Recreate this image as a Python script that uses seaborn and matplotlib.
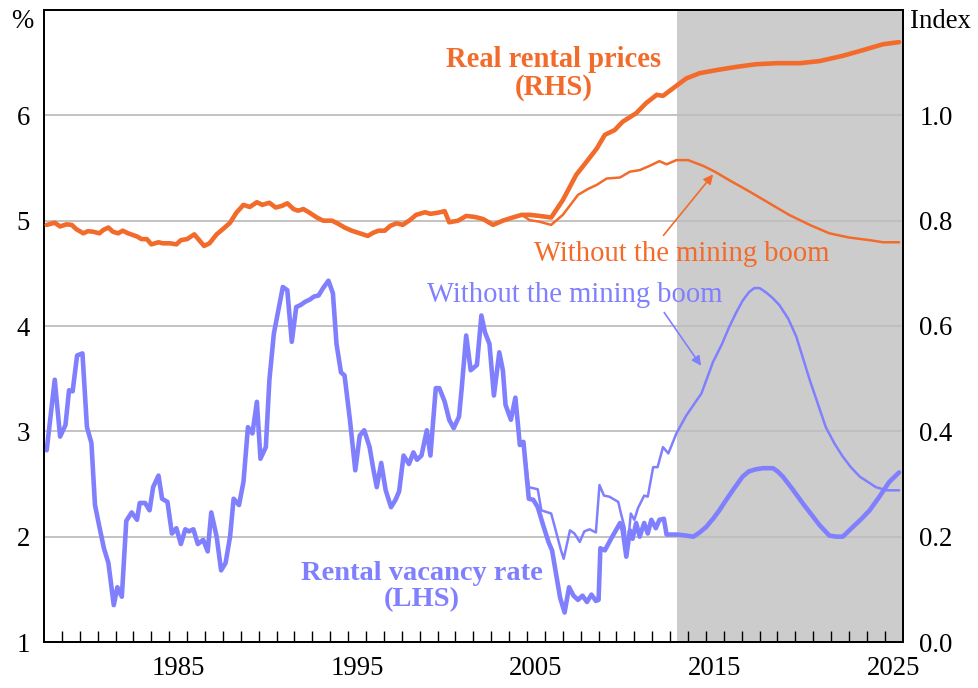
import numpy as np
import pandas as pd
import matplotlib
matplotlib.use("Agg")
import matplotlib.pyplot as plt
import seaborn as sns
from matplotlib.ticker import FixedLocator, FormatStrFormatter

# ---------------- data ----------------
vac_year = [1978.15, 1978.6, 1978.9, 1979.2, 1979.4, 1979.6, 1979.85, 1980.15, 1980.4, 1980.65,
            1980.85, 1981.1, 1981.35, 1981.6, 1981.9, 1982.1, 1982.35, 1982.6, 1982.9, 1983.2,
            1983.35, 1983.65, 1983.9, 1984.1, 1984.4, 1984.6, 1984.9, 1985.15, 1985.4, 1985.65,
            1985.9, 1986.1, 1986.35, 1986.6, 1986.9, 1987.15, 1987.35, 1987.65, 1987.9, 1988.15,
            1988.4, 1988.6, 1988.9, 1989.15, 1989.4, 1989.65, 1989.9, 1990.1, 1990.4, 1990.6,
            1990.85, 1991.1, 1991.35, 1991.6, 1991.85, 1992.1, 1992.35, 1992.6, 1992.85, 1993.1,
            1993.35, 1993.6, 1993.9, 1994.15, 1994.35, 1994.6, 1994.8, 1995.1, 1995.4, 1995.65,
            1995.9, 1996.2, 1996.4, 1996.6, 1996.85, 1997.1, 1997.4, 1997.65, 1997.85, 1998.1,
            1998.4, 1998.65, 1998.85, 1999.1, 1999.4, 1999.6, 1999.9, 2000.1, 2000.4, 2000.65,
            2000.9, 2001.2, 2001.35, 2001.6, 2001.85, 2002.2, 2002.45, 2002.65, 2002.9, 2003.15,
            2003.45, 2003.65, 2003.8, 2004.1, 2004.35, 2004.6, 2004.8, 2005.1, 2005.35, 2005.6,
            2005.9, 2006.2, 2006.4, 2006.65, 2006.85, 2007.1, 2007.35, 2007.6, 2007.85, 2008.1,
            2008.35, 2008.6, 2008.85, 2009.0, 2009.1, 2009.35, 2009.7, 2010.2, 2010.35, 2010.55,
            2010.75, 2010.9, 2011.1, 2011.3, 2011.55, 2011.75, 2011.95, 2012.2, 2012.4, 2012.65,
            2012.8, 2013.4, 2013.9, 2014.3, 2014.65, 2015.0, 2015.4, 2015.75, 2016.1, 2016.5,
            2016.8, 2017.05, 2017.4, 2017.8, 2018.2, 2018.75, 2019.0, 2019.3, 2019.8, 2020.4,
            2020.9, 2021.35, 2021.9, 2022.3, 2022.65, 2023.2, 2023.7, 2024.15, 2024.7, 2025.25,
            2025.8]
vac_rate = [2.82, 3.49, 2.95, 3.06, 3.39, 3.38, 3.72, 3.74, 3.04, 2.89,
            2.30, 2.09, 1.89, 1.75, 1.35, 1.52, 1.43, 2.15, 2.23, 2.16,
            2.32, 2.32, 2.25, 2.47, 2.58, 2.36, 2.33, 2.03, 2.08, 1.93,
            2.07, 2.05, 2.07, 1.93, 1.97, 1.86, 2.23, 2.00, 1.68, 1.75,
            2.00, 2.36, 2.30, 2.52, 3.04, 2.98, 3.28, 2.74, 2.85, 3.49,
            3.93, 4.15, 4.37, 4.34, 3.85, 4.18, 4.20, 4.23, 4.25, 4.28,
            4.29, 4.36, 4.43, 4.31, 3.83, 3.56, 3.53, 3.11, 2.63, 2.96,
            3.01, 2.85, 2.65, 2.47, 2.70, 2.44, 2.28, 2.35, 2.43, 2.77,
            2.69, 2.80, 2.73, 2.77, 3.01, 2.77, 3.41, 3.41, 3.28, 3.11,
            3.03, 3.14, 3.41, 3.91, 3.58, 3.63, 4.10, 3.94, 3.83, 3.34,
            3.75, 3.58, 3.25, 3.11, 3.32, 2.87, 2.90, 2.36, 2.35, 2.28,
            2.11, 1.95, 1.87, 1.62, 1.42, 1.28, 1.52, 1.44, 1.40, 1.44,
            1.38, 1.45, 1.39, 1.40, 1.89, 1.87, 1.98, 2.13, 2.06, 1.81,
            2.06, 1.98, 2.13, 2.00, 2.13, 2.03, 2.16, 2.08, 2.16, 2.17,
            2.02, 2.02, 2.01, 2.00, 2.04, 2.09, 2.17, 2.25, 2.34, 2.44,
            2.51, 2.57, 2.62, 2.64, 2.65, 2.65, 2.62, 2.57, 2.46, 2.32,
            2.21, 2.11, 2.01, 2.00, 2.00, 2.09, 2.17, 2.25, 2.38, 2.52,
            2.61]

vac_nb_year = [2004.35, 2004.6, 2004.8, 2005.1, 2005.6, 2005.8, 2006.35, 2006.65, 2006.9, 2007.05,
               2007.4, 2007.65, 2007.95, 2008.2, 2008.5, 2008.85, 2009.05, 2009.3, 2009.6, 2010.1,
               2010.25, 2010.45, 2010.6, 2010.8, 2011.0, 2011.2, 2011.55, 2011.75, 2012.05, 2012.3,
               2012.6, 2012.9, 2013.35, 2013.9, 2014.75, 2015.4, 2015.9, 2016.3, 2016.7, 2017.05,
               2017.4, 2017.7, 2018.0, 2018.35, 2018.7, 2019.1, 2019.6, 2020.05, 2020.8, 2021.7,
               2022.2, 2022.65, 2023.1, 2023.6, 2024.5, 2025.1, 2025.8]
vac_nb_rate = [3.32, 2.87, 2.90, 2.47, 2.45, 2.25, 2.22, 2.03, 1.87, 1.79,
               2.06, 2.03, 1.95, 2.05, 2.07, 2.04, 2.49, 2.39, 2.38, 2.33,
               2.22, 2.09, 1.84, 2.22, 2.16, 2.27, 2.39, 2.38, 2.66, 2.66,
               2.85, 2.79, 2.98, 3.15, 3.36, 3.66, 3.83, 3.99, 4.13, 4.24,
               4.32, 4.36, 4.36, 4.32, 4.27, 4.20, 4.07, 3.90, 3.49, 3.04,
               2.88, 2.76, 2.66, 2.57, 2.47, 2.44, 2.44]

rent_year = [1978.15, 1978.6, 1978.9, 1979.25, 1979.55, 1979.8, 1980.2, 1980.45, 1980.75, 1981.1,
             1981.3, 1981.6, 1981.85, 1982.15, 1982.4, 1982.7, 1983.2, 1983.45, 1983.75, 1984.0,
             1984.4, 1984.65, 1985.05, 1985.4, 1985.65, 1986.0, 1986.4, 1986.7, 1986.95, 1987.25,
             1987.65, 1988.0, 1988.4, 1988.75, 1989.15, 1989.5, 1989.9, 1990.2, 1990.6, 1990.95,
             1991.3, 1991.6, 1991.95, 1992.2, 1992.5, 1992.85, 1993.25, 1993.6, 1994.1, 1994.45,
             1994.8, 1995.2, 1995.65, 1996.1, 1996.4, 1996.7, 1997.05, 1997.35, 1997.7, 1998.05,
             1998.45, 1998.8, 1999.3, 1999.6, 2000.0, 2000.4, 2000.65, 2001.15, 2001.6, 2002.1,
             2002.55, 2003.1, 2003.65, 2004.2, 2004.7, 2005.15, 2005.7, 2006.35, 2007.0, 2007.75,
             2008.4, 2008.9, 2009.35, 2009.9, 2010.35, 2011.1, 2011.65, 2012.25, 2012.6, 2013.15,
             2013.9, 2014.65, 2015.6, 2016.7, 2017.8, 2018.95, 2020.25, 2021.35, 2022.65, 2023.8,
             2024.9, 2025.8]
rent_index = [0.792, 0.796, 0.789, 0.793, 0.792, 0.784, 0.776, 0.780, 0.779, 0.776,
              0.782, 0.787, 0.779, 0.776, 0.781, 0.776, 0.770, 0.765, 0.765, 0.755,
              0.759, 0.757, 0.757, 0.755, 0.763, 0.765, 0.774, 0.762, 0.752, 0.757,
              0.774, 0.784, 0.796, 0.815, 0.830, 0.826, 0.835, 0.830, 0.834, 0.825,
              0.828, 0.833, 0.822, 0.819, 0.822, 0.815, 0.806, 0.800, 0.800, 0.794,
              0.787, 0.781, 0.776, 0.771, 0.777, 0.781, 0.781, 0.790, 0.795, 0.792,
              0.801, 0.811, 0.816, 0.813, 0.815, 0.818, 0.797, 0.800, 0.809, 0.807,
              0.803, 0.792, 0.800, 0.806, 0.811, 0.811, 0.809, 0.806, 0.839, 0.887,
              0.915, 0.937, 0.963, 0.972, 0.988, 1.004, 1.023, 1.039, 1.037, 1.051,
              1.070, 1.080, 1.086, 1.092, 1.097, 1.099, 1.099, 1.103, 1.113, 1.124,
              1.135, 1.139]

rent_nb_year = [2004.7, 2005.15, 2005.7, 2006.35, 2007.0, 2007.85, 2008.4, 2008.9, 2009.45, 2010.2,
                2010.75, 2011.3, 2011.85, 2012.4, 2012.8, 2013.35, 2014.0, 2014.85, 2015.5, 2016.3,
                2017.45, 2018.55, 2019.65, 2020.8, 2021.9, 2023.0, 2024.15, 2024.9, 2025.8]
rent_nb_index = [0.811, 0.801, 0.798, 0.792, 0.811, 0.849, 0.860, 0.868, 0.880, 0.882,
                 0.893, 0.896, 0.904, 0.913, 0.907, 0.915, 0.915, 0.904, 0.893, 0.877,
                 0.855, 0.833, 0.811, 0.792, 0.776, 0.768, 0.763, 0.759, 0.759]

forecast_start = 2013.4
x_labels = ["1985", "1995", "2005", "2015", "2025"]
left_ticks = [1, 2, 3, 4, 5, 6]
right_ticks = [0.0, 0.2, 0.4, 0.6, 0.8, 1.0]

ORANGE = "#F26B2B"
BLUE = "#8080FF"
GREY_SHADE = "#CCCCCC"
GRID = "#BEBEBE"

# ---------------- style ----------------
sns.set_style("white")
plt.rcParams["font.family"] = ["Liberation Serif", "DejaVu Serif"]
plt.rcParams["font.size"] = 19
for key in ("text.color", "axes.labelcolor", "xtick.color", "ytick.color", "axes.edgecolor"):
    plt.rcParams[key] = "black"

fig = plt.figure(figsize=(9.79, 6.88), dpi=100)
ax = fig.add_axes([44 / 979, 46 / 688, (902.7 - 44) / 979, (642 - 10) / 688])
ax2 = ax.twinx()

ax.axvspan(forecast_start, 2026, color=GREY_SHADE, zorder=0, lw=0)

df_vac = pd.DataFrame({"year": vac_year, "rate": vac_rate})
df_vac_nb = pd.DataFrame({"year": vac_nb_year, "rate": vac_nb_rate})
df_rent = pd.DataFrame({"year": rent_year, "index": rent_index})
df_rent_nb = pd.DataFrame({"year": rent_nb_year, "index": rent_nb_index})

sns.lineplot(data=df_vac_nb, x="year", y="rate", ax=ax, color=BLUE, lw=1.8,
             estimator=None, sort=False, zorder=2)
sns.lineplot(data=df_vac, x="year", y="rate", ax=ax, color=BLUE, lw=3.3,
             estimator=None, sort=False, zorder=3)
sns.lineplot(data=df_rent_nb, x="year", y="index", ax=ax2, color=ORANGE, lw=1.8,
             estimator=None, sort=False, zorder=2)
sns.lineplot(data=df_rent, x="year", y="index", ax=ax2, color=ORANGE, lw=3.3,
             estimator=None, sort=False, zorder=3)

# axes limits
ax.set_xlim(1978, 2026)
ax.set_ylim(1, 7)
ax2.set_ylim(0, 1.2)

# x ticks: minor marks at each year boundary, labels centred within the year
ax.xaxis.set_minor_locator(FixedLocator(np.arange(1979, 2026)))
ax.set_xticks([int(s) + 0.5 for s in x_labels])
ax.set_xticklabels(x_labels)
ax.tick_params(axis="x", which="major", length=0, pad=10, labelsize=19.3, labelcolor="black")
ax.tick_params(axis="x", which="minor", direction="in", length=8, width=1, color="black", bottom=True)

ax.set_yticks(left_ticks)
ax.tick_params(axis="y", length=0, pad=10, labelsize=19.3, labelcolor="black")
ax2.set_yticks(right_ticks)
ax2.yaxis.set_major_formatter(FormatStrFormatter("%.1f"))
ax2.tick_params(axis="y", length=0, pad=12, labelsize=19.3, labelcolor="black")

ax.set_xlabel("")
ax.set_ylabel("")
ax2.set_ylabel("")

ax.grid(axis="y", color=GRID, lw=1.3)
ax.grid(axis="x", visible=False)
ax2.grid(False)
ax.set_axisbelow(True)

for a in (ax, ax2):
    for s in a.spines.values():
        s.set_color("black")
        s.set_linewidth(1.3)
        s.set_visible(True)

# units
fig.text(22 / 979, 1 - 22 / 688, "%", ha="center", va="center", fontsize=19.3, color="black")
fig.text(940 / 979, 1 - 22 / 688, "Index", ha="center", va="center", fontsize=19.3, color="black")

# labels
ax.text(2006.5, 6.40, "Real rental prices\n(RHS)", ha="center", va="center", color=ORANGE,
        fontsize=20.6, fontweight="bold", linespacing=1.05)
ax.text(1999.1, 1.53, "Rental vacancy rate\n(LHS)", ha="center", va="center", color=BLUE,
        fontsize=20.5, fontweight="bold", linespacing=1.05)
ax.text(2013.64, 4.68, "Without the mining boom", ha="center", va="center", color=ORANGE, fontsize=20.6)
ax.text(2007.66, 4.29, "Without the mining boom", ha="center", va="center", color=BLUE, fontsize=20.6)

ax.annotate("", xy=(2015.5, 5.46), xytext=(2012.53, 4.84),
            arrowprops=dict(arrowstyle="-|>", color=ORANGE, lw=1.2, mutation_scale=14))
ax.annotate("", xy=(2014.82, 3.60), xytext=(2012.58, 4.15),
            arrowprops=dict(arrowstyle="-|>", color=BLUE, lw=1.2, mutation_scale=14))

fig.savefig("out.png", dpi=100)
